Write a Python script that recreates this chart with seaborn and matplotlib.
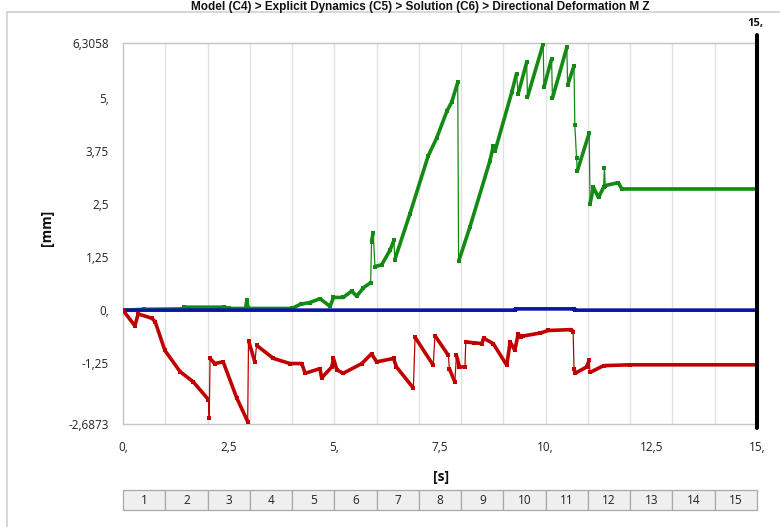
import numpy as np
import pandas as pd
import matplotlib
matplotlib.use("Agg")
import matplotlib.pyplot as plt
from matplotlib.lines import Line2D
import seaborn as sns

# ---------------- data ----------------
green_t = [0, 0.5, 1.4, 1.45, 2.4, 2.5, 2.9, 2.93, 2.96, 4.0, 4.2, 4.42, 4.66, 4.9, 4.98,
           5.21, 5.41, 5.53, 5.69, 5.86, 5.88, 5.92, 5.96, 6.12, 6.32, 6.41, 6.43, 6.79,
           7.22, 7.42, 7.66, 7.78, 7.92, 7.94, 8.21, 8.68, 8.76, 8.8, 9.2, 9.31, 9.35,
           9.55, 9.57, 9.94, 9.96, 10.14, 10.16, 10.5, 10.52, 10.67, 10.69, 10.73, 10.75,
           11.03, 11.05, 11.13, 11.25, 11.37, 11.39, 11.41, 11.72, 11.8, 15.0]
green_v = [0, 0.02, 0.03, 0.07, 0.07, 0.04, 0.04, 0.24, 0.04, 0.04, 0.14, 0.18, 0.27, 0.09, 0.30,
           0.30, 0.45, 0.33, 0.53, 0.65, 1.62, 1.83, 1.03, 1.07, 1.42, 1.65, 1.19, 2.28,
           3.64, 4.06, 4.69, 4.92, 5.38, 1.15, 1.97, 3.52, 3.87, 3.75, 5.15, 5.58, 5.11,
           5.85, 5.03, 6.28, 5.27, 5.93, 5.00, 6.20, 5.31, 5.77, 4.37, 3.60, 3.29,
           4.18, 2.51, 2.90, 2.66, 2.90, 3.36, 2.94, 3.01, 2.86, 2.86]

red_t = [0, 0.28, 0.36, 0.68, 0.76, 0.99, 1.35, 1.66, 2.02, 2.04, 2.06, 2.17, 2.37, 2.69,
         2.95, 2.97, 3.12, 3.16, 3.56, 3.95, 4.23, 4.31, 4.66, 4.70, 4.94, 4.98, 5.06, 5.21,
         5.65, 5.88, 6.0, 6.4, 6.47, 6.87, 6.91, 7.34, 7.38, 7.70, 7.72, 7.85, 7.89, 7.96,
         8.09, 8.11, 8.3, 8.49, 8.53, 8.76, 9.08, 9.16, 9.27, 9.35, 9.42, 9.47, 9.87,
         10.06, 10.61, 10.65, 10.67, 10.70, 10.97, 11.03, 11.05, 11.37, 12.0, 15.0]
red_v = [0, -0.37, -0.09, -0.19, -0.27, -0.95, -1.45, -1.69, -2.11, -2.54, -1.14, -1.26, -1.22, -2.07,
         -2.63, -0.72, -1.22, -0.83, -1.14, -1.26, -1.26, -1.49, -1.38, -1.60, -1.34, -1.14, -1.41, -1.49,
         -1.26, -1.03, -1.22, -1.14, -1.34, -1.84, -0.64, -1.30, -0.60, -1.07, -1.38, -1.69, -1.07, -1.34,
         -1.34, -0.75, -0.77, -0.79, -0.66, -0.79, -1.30, -0.75, -0.95, -0.56, -0.64, -0.61, -0.54,
         -0.48, -0.46, -0.52, -1.38, -1.49, -1.34, -1.18, -1.47, -1.31, -1.29, -1.29]

blue_t = [0, 9.27, 9.30, 10.68, 10.70, 15.0]
blue_v = [0, 0, 0.03, 0.03, 0, 0]

x_ticks = [0, 2.5, 5, 7.5, 10, 12.5, 15]
x_ticklabels = ["0,", "2,5", "5,", "7,5", "10,", "12,5", "15,"]
y_ticks = [-2.6873, -1.25, 0, 1.25, 2.5, 3.75, 5, 6.3058]
y_ticklabels = ["-2,6873", "-1,25", "0,", "1,25", "2,5", "3,75", "5,", "6,3058"]
table_labels = [str(i) for i in range(1, 16)]

title = "Model (C4) > Explicit Dynamics (C5) > Solution (C6) > Directional Deformation M Z"

# ---------------- style ----------------
sns.set_theme(style="white")
plt.rcParams['font.family'] = ['Open Sans', 'DejaVu Sans']

W, H = 780, 527
fig = plt.figure(figsize=(W / 100, H / 100), dpi=100)
ax_l, ax_r, ax_t, ax_b = 123, 757, 43, 424
ax = fig.add_axes([ax_l / W, 1 - ax_b / H, (ax_r - ax_l) / W, (ax_b - ax_t) / H])

# vertical gridlines at each second
for s in range(1, 15):
    ax.axvline(s, color="#e2e2e2", lw=1.0, zorder=0)

series = [
    ("green", green_t, green_v, "#138a13"),
    ("blue", blue_t, blue_v, "#0a14a8"),
    ("red", red_t, red_v, "#c00000"),
]

for name, t, v, col in series:
    df = pd.DataFrame({"t": t, "v": v})
    # thin connecting line + small square markers
    sns.lineplot(data=df, x="t", y="v", ax=ax, color=col, lw=0.9, sort=False,
                 estimator=None, marker="s", markersize=3.2, markeredgewidth=0,
                 zorder=3)
    # thick trace except at near-vertical jumps
    tt = np.asarray(t, float)
    vv = np.asarray(v, float)
    xs, ys = [tt[0]], [vv[0]]
    for i in range(1, len(tt)):
        slope = abs(vv[i] - vv[i - 1]) / max(tt[i] - tt[i - 1], 1e-9)
        if slope > 8:
            xs.append(np.nan); ys.append(np.nan)
        xs.append(tt[i]); ys.append(vv[i])
    ax.plot(xs, ys, color=col, lw=2.6, solid_capstyle="butt", zorder=3)

ax.set_xlim(0, 15)
ax.set_ylim(-2.6873, 6.3058)
ax.set_xticks(x_ticks)
ax.set_xticklabels(x_ticklabels)
ax.set_yticks(y_ticks)
ax.set_yticklabels(y_ticklabels)
ax.set_xlabel("")
ax.set_ylabel("")
ax.tick_params(axis="both", direction="out", length=7, width=1, color="#b5b5b5",
               labelsize=8.5, labelcolor="#222222", pad=3)
ax.tick_params(axis="x", pad=5)

for side in ["left", "bottom", "top"]:
    ax.spines[side].set_color("#c4c4c4")
    ax.spines[side].set_linewidth(1.0)
ax.spines["right"].set_visible(False)

# black current-time marker at 15 s
ax.axvline(15, ymin=-(428 - ax_b) / (ax_b - ax_t), ymax=(ax_b - 35) / (ax_b - ax_t),
           color="black", lw=2.9, clip_on=False, zorder=5)
ax.text(14.95, (ax_b - 23) / (ax_b - ax_t), "15,", transform=ax.get_xaxis_transform(),
        ha="center", va="center", fontsize=8, fontweight="bold", color="#111111")

# axis titles
fig.text(47 / W, 1 - 228 / H, "[mm]", rotation=90, ha="center", va="center",
         fontsize=10, fontweight="bold", color="#111111")
fig.text(441 / W, 1 - 477 / H, "[s]", ha="center", va="center",
         fontsize=10, fontweight="bold", color="#111111")

# title at the very top edge
fig.text(420 / W, 1 - 1 / H, title, ha="center", va="top",
         fontsize=8.5, fontweight="bold", color="#111111",
         family=["Liberation Sans", "DejaVu Sans"])

# step table
tab = ax.table(cellText=[table_labels], cellLoc="center",
               bbox=[0, -(510 - ax_b) / (ax_b - ax_t), 1, 20 / (ax_b - ax_t)])
tab.auto_set_font_size(False)
tab.set_fontsize(8.5)
for (r, c), cell in tab.get_celld().items():
    cell.set_facecolor("#efefef")
    cell.set_edgecolor("#a8a8a8")
    cell.set_linewidth(0.9)
    cell.get_text().set_color("#222222")

# window frame
fig.add_artist(Line2D([7 / W, 7 / W], [0, 1 - 12 / H], color="#c8d2de", lw=1.2))
fig.add_artist(Line2D([7 / W, 1], [1 - 12 / H, 1 - 12 / H], color="#c8d2de", lw=1.2))

fig.savefig("out.png", dpi=100)
